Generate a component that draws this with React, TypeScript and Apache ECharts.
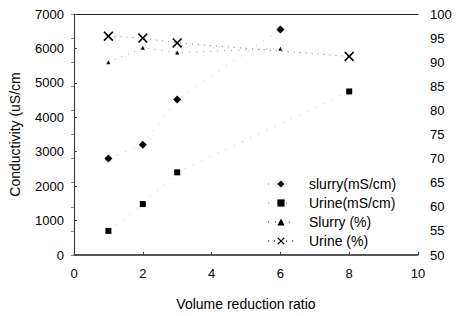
import React, { useEffect, useRef } from "react";
import * as echarts from "echarts";

const slurryCondX = [1, 2, 3, 6];
const slurryCond = [2800, 3200, 4520, 6550];
const urineCondX = [1, 2, 3, 8];
const urineCond = [700, 1480, 2400, 4750];
const slurryPctX = [1, 2, 3, 6];
const slurryPct = [90, 93, 92, 92.8];
const urinePctX = [1, 2, 3, 8];
const urinePct = [95.4, 95, 94, 91.2];

const seriesNames = ["slurry(mS/cm)", "Urine(mS/cm)", "Slurry (%)", "Urine (%)"];

const XSYM = "path://M0,1.2L1.2,0L5,3.8L8.8,0L10,1.2L6.2,5L10,8.8L8.8,10L5,6.2L1.2,10L0,8.8L3.8,5Z";

const pairs = (xs: number[], ys: number[]) => xs.map((x, i) => [x, ys[i]]);

export default function App() {
  const ref = useRef<HTMLDivElement>(null);
  useEffect(() => {
    if (!ref.current) return;
    const chart = echarts.init(ref.current, undefined, { renderer: "svg" });
    const font = "'Liberation Sans', Arial, Helvetica, sans-serif";
    const lbl = { color: "#000", fontSize: 13, fontFamily: font, formatter: (v: number) => String(v) };
    chart.setOption({
      animation: false,
      backgroundColor: "#fff",
      textStyle: { fontFamily: font },
      grid: { left: 72, right: 38, top: 14, bottom: 51 },
      legend: {
        orient: "vertical",
        left: 262,
        top: 171,
        itemWidth: 26,
        itemHeight: 9,
        itemGap: 3,
        data: seriesNames,
        textStyle: { color: "#000", fontSize: 14, lineHeight: 16, fontFamily: font, padding: [0, 0, 0, 10] },
      },
      xAxis: [
        {
          type: "value",
          min: 0,
          max: 10,
          interval: 2,
          name: "Volume reduction ratio",
          nameLocation: "middle",
          nameGap: 42,
          nameTextStyle: { color: "#000", fontSize: 14, fontFamily: font },
          axisLine: { show: true, onZero: false, lineStyle: { color: "#222", width: 1.5 } },
          axisTick: { show: true, inside: true, length: 3, lineStyle: { color: "#444" } },
          axisLabel: { ...lbl, margin: 12 },
          splitLine: { show: false },
        },
        {
          type: "value",
          position: "top",
          min: 0,
          max: 10,
          interval: 2,
          axisLine: { show: true, onZero: false, lineStyle: { color: "#222", width: 1.2 } },
          axisTick: { show: false },
          axisLabel: { show: false },
          splitLine: { show: false },
        },
      ],
      yAxis: [
        {
          type: "value",
          min: 0,
          max: 7000,
          interval: 1000,
          name: "Conductivity (uS/cm",
          nameLocation: "middle",
          nameGap: 52,
          nameRotate: 90,
          nameTextStyle: { color: "#000", fontSize: 14, fontFamily: font },
          axisLine: { show: true, onZero: false, lineStyle: { color: "#333", width: 1 } },
          axisTick: { show: true, inside: true, length: 3, lineStyle: { color: "#444" } },
          axisLabel: { ...lbl, margin: 10 },
          splitLine: { show: false },
        },
        {
          type: "value",
          min: 50,
          max: 100,
          interval: 5,
          position: "right",
          axisLine: { show: false },
          axisTick: { show: true, inside: true, length: 3, lineStyle: { color: "#888" } },
          axisLabel: { ...lbl, margin: 12 },
          splitLine: { show: false },
        },
      ],
      series: [
        {
          name: seriesNames[0],
          type: "line",
          yAxisIndex: 0,
          data: pairs(slurryCondX, slurryCond),
          symbol: "diamond",
          symbolSize: 8,
          itemStyle: { color: "#000" },
          lineStyle: { color: "#bbb", width: 1, type: [1, 8] },
        },
        {
          name: seriesNames[1],
          type: "line",
          yAxisIndex: 0,
          data: pairs(urineCondX, urineCond),
          symbol: "rect",
          symbolSize: 6,
          itemStyle: { color: "#000" },
          lineStyle: { color: "#bbb", width: 1, type: [1, 8] },
        },
        {
          name: seriesNames[2],
          type: "line",
          yAxisIndex: 1,
          data: pairs(slurryPctX, slurryPct),
          symbol: "triangle",
          symbolSize: 4,
          itemStyle: { color: "#000" },
          lineStyle: { color: "#999", width: 1, type: [1, 6] },
        },
        {
          name: seriesNames[3],
          type: "line",
          yAxisIndex: 1,
          data: pairs(urinePctX, urinePct),
          symbol: XSYM,
          symbolSize: 10,
          itemStyle: { color: "#000" },
          lineStyle: { color: "#777", width: 1, type: [1, 5] },
        },
      ],
    });
    return () => chart.dispose();
  }, []);
  return (
    <div
      ref={ref}
      style={{ position: "absolute", left: 0, top: 0, width: 456, height: 316, background: "#fff" }}
    />
  );
}
